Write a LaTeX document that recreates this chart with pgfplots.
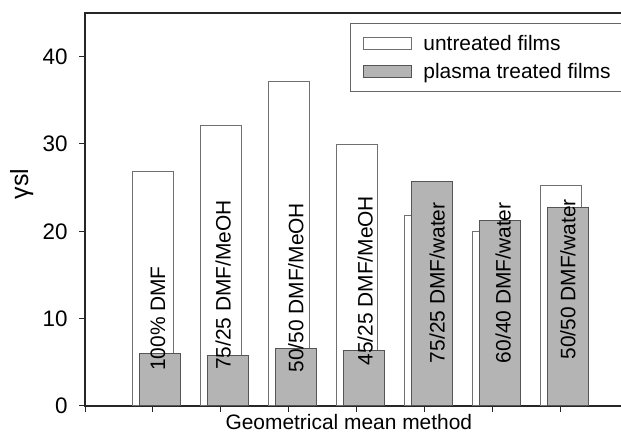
\documentclass[border=0pt]{standalone}
\usepackage{fontspec}
\setmainfont{Liberation Sans}
\usepackage{pgfplots}
\pgfplotsset{compat=1.18}
\definecolor{barfill}{HTML}{B4B4B4}
\definecolor{baredge}{HTML}{555555}
\definecolor{whiteedge}{HTML}{707070}
\definecolor{axline}{HTML}{262626}

\begin{document}
\begin{tikzpicture}[font=\fontsize{21}{25}\selectfont]
\begin{axis}[
  at={(85bp,29bp)}, anchor=south west,
  scale only axis, width=544bp, height=393bp,
  xmin=0, xmax=8, ymin=0, ymax=45,
  axis line style={axline, line width=1.2bp},
  xtick={0,1,...,7}, xticklabels={},
  ytick={0,10,20,30,40},
  tick align=outside, xtick pos=bottom, ytick pos=left,
  major tick length=6bp,
  tick style={axline, line width=1bp},
  /pgf/number format/assume math mode=true,
  yticklabel style={font=\fontsize{22.5}{26}\selectfont, xshift=-8bp},
  xlabel={Geometrical mean method},
  xlabel style={at={(axis cs:3.88,0)}, anchor=north, inner sep=0pt, yshift=-8bp},
  ylabel={γsl},
  ylabel style={at={(axis cs:-0.93,25.4)}, anchor=center, inner sep=0pt,
    font=\fontsize{25}{29}\selectfont},
  legend style={at={(0.487,0.975)}, anchor=north west, draw=gray!80!black,
    line width=1bp, fill=white, font=\fontsize{21}{25}\selectfont,
    inner xsep=13bp, inner ysep=10bp, row sep=7bp,
    /tikz/every odd column/.append style={column sep=9bp}},
  legend cell align=left,
]
% untreated films
\addplot[ybar, bar width=41bp, bar shift=0bp, fill=white, draw=whiteedge, line width=1bp,
  legend image code/.code={\draw[fill=white, draw=whiteedge, line width=1bp] (0bp,-6bp) rectangle (48bp,6bp);}]
  coordinates {(1,26.9) (2,32.1) (3,37.2) (4,29.9) (5,21.8) (6,20.0) (7,25.3)};
% plasma treated films
\addplot[ybar, bar width=41bp, bar shift=6.8bp, fill=barfill, draw=baredge, line width=1bp,
  legend image code/.code={\draw[fill=barfill, draw=baredge, line width=1bp] (0bp,-6bp) rectangle (48bp,6bp);}]
  coordinates {(1,5.96) (2,5.8) (3,6.57) (4,6.34) (5,25.7) (6,21.2) (7,22.7)};
% solvent labels
\addplot[draw=none, mark=none, point meta=explicit symbolic, nodes near coords,
  nodes near coords style={rotate=90, anchor=west, inner sep=0pt, font=\fontsize{21}{25}\selectfont}]
  coordinates {(1.074,4.0) [100\% DMF] (2.03,4.1) [75/25 DMF/MeOH] (3.10,3.8) [50/50 DMF/MeOH]
    (4.12,4.6) [45/25 DMF/MeOH] (5.18,4.9) [75/25 DMF/water] (6.15,4.9) [60/40 DMF/water]
    (7.10,5.3) [50/50 DMF/water]};
\legend{untreated films, plasma treated films}
\end{axis}
\pgfresetboundingbox
\path[use as bounding box] (0,0) rectangle (621bp,435bp);
\end{tikzpicture}
\end{document}
